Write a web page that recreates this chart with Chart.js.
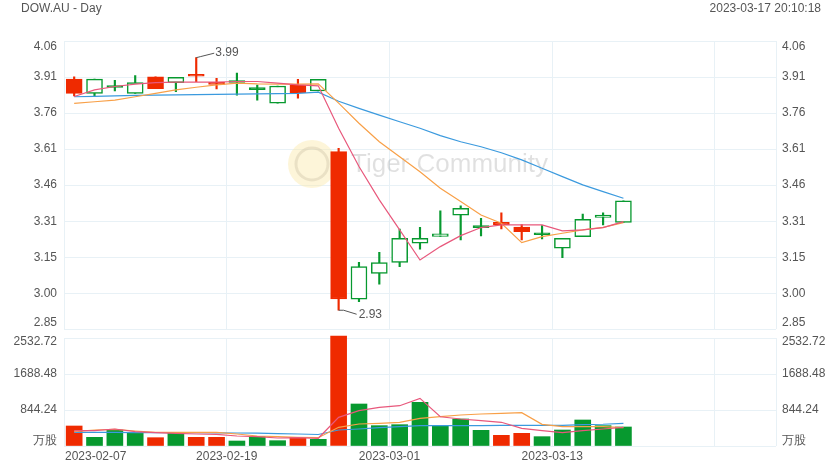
<!DOCTYPE html>
<html><head><meta charset="utf-8">
<script src="https://cdn.jsdelivr.net/npm/chart.js@4.4.0/dist/chart.umd.min.js"></script>
<style>
html,body{margin:0;padding:0;background:#fff;}
#wrap{position:relative;width:840px;height:470px;font-family:Arial,"Liberation Sans",sans-serif;overflow:hidden;}
canvas{position:absolute;left:0;top:0;}
.t{position:absolute;font-size:12px;color:#555;line-height:14px;white-space:nowrap;}
</style></head><body>
<div id="wrap">
<canvas id="price" width="840" height="470"></canvas>
<canvas id="vol" width="840" height="470"></canvas>
<div class="t" style="left:21px;top:1px;">DOW.AU - Day</div>
<div class="t" style="right:19px;top:1px;">2023-03-17 20:10:18</div>
</div>
<script>
// ---- data ----
const dates = ['2023-02-08','2023-02-09','2023-02-10','2023-02-13','2023-02-14','2023-02-15','2023-02-16','2023-02-17','2023-02-20','2023-02-21','2023-02-22','2023-02-23','2023-02-24','2023-02-27','2023-02-28','2023-03-01','2023-03-02','2023-03-03','2023-03-06','2023-03-07','2023-03-08','2023-03-09','2023-03-10','2023-03-13','2023-03-14','2023-03-15','2023-03-16','2023-03-17'];
const opens  = [3.90,3.84,3.865,3.84,3.91,3.885,3.92,3.887,3.886,3.856,3.799,3.875,3.85,3.596,2.976,3.085,3.131,3.211,3.24,3.329,3.277,3.299,3.279,3.247,3.19,3.239,3.32,3.299];
const closes = [3.84,3.90,3.87,3.885,3.86,3.908,3.912,3.878,3.888,3.858,3.871,3.843,3.899,2.977,3.113,3.13,3.232,3.232,3.251,3.358,3.279,3.288,3.26,3.249,3.232,3.312,3.329,3.389];
const highs  = [3.91,3.90,3.895,3.915,3.91,3.908,3.99,3.903,3.925,3.875,3.871,3.899,3.899,3.61,3.131,3.173,3.271,3.278,3.347,3.368,3.316,3.339,3.29,3.285,3.232,3.334,3.339,3.389];
const lows   = [3.83,3.83,3.85,3.84,3.86,3.847,3.889,3.859,3.833,3.812,3.799,3.82,3.85,2.93,2.966,3.039,3.113,3.186,3.24,3.225,3.242,3.271,3.225,3.229,3.151,3.239,3.288,3.299];
const ma5  = [3.827,3.855,3.869,3.879,3.885,3.887,3.887,3.887,3.89,3.89,3.883,3.876,3.872,3.694,3.533,3.393,3.267,3.141,3.197,3.243,3.277,3.288,3.288,3.288,3.263,3.267,3.277,3.302];
const ma10 = [3.798,3.805,3.812,3.826,3.84,3.855,3.866,3.876,3.883,3.88,3.879,3.879,3.88,3.799,3.715,3.637,3.574,3.511,3.442,3.386,3.33,3.295,3.214,3.239,3.253,3.267,3.278,3.298];
const ma20 = [3.826,3.828,3.83,3.832,3.833,3.834,3.835,3.836,3.837,3.838,3.839,3.84,3.845,3.807,3.777,3.749,3.721,3.694,3.663,3.637,3.616,3.591,3.561,3.526,3.491,3.456,3.428,3.40];
const volumes = [469,204,375,297,195,321,204,204,117,218,125,204,157,2580,985,477,500,1024,477,633,367,250,297,219,375,610,477,446];
const volMa5  = [359,359,399,336,312,298,281,274,234,218,188,195,181,672,828,907,945,1118,686,633,594,556,415,359,312,359,399,438];
const volMa10 = [335,375,391,352,321,321,321,321,281,235,219,204,195,438,516,532,555,649,688,727,750,766,781,509,453,453,453,429];
const volMa20 = [321,320,318,316,315,313,311,310,305,300,290,282,270,375,399,430,453,477,477,477,477,485,485,485,485,500,510,532];
const priceTicks = [4.06,3.90875,3.7575,3.60625,3.455,3.30375,3.1525,3.00125,2.85];
const priceTickLabels = ['4.06','3.91','3.76','3.61','3.46','3.31','3.15','3.00','2.85'];
const volTicks = [2532.72,1688.48,844.24,0];
const volTickLabels = ['2532.72','1688.48','844.24','万股'];
const xGrid = [-0.5,7.5,15.5,23.5,31.5,34.5];
const xTickLabels = ['2023-02-07','2023-02-19','2023-03-01','2023-03-13','',''];
const maxLabel = '3.99', minLabel = '2.93';

// ---- style ----
const RED = '#ef2a00', GREEN = '#07992f', GRID = '#e8f1f6', TXT = '#555';
const PINK = '#e8587c', ORANGE = '#f8a048', BLUE = '#3b9ade';
const FONT = '12px Arial, "Liberation Sans", sans-serif';
const isUp = i => closes[i] >= opens[i];
const isDoji = i => Math.abs(closes[i] - opens[i]) < 0.005;
const pts = arr => arr.map((v, i) => ({x: i, y: v}));

function yLabelPlugin(id, yId, vals, labs, topShift, botShift) {
  return { id, afterDraw(chart) {
    const ctx = chart.ctx, s = chart.scales[yId], a = chart.chartArea;
    ctx.save(); ctx.font = FONT; ctx.fillStyle = TXT; ctx.textBaseline = 'middle';
    vals.forEach((v, i) => {
      let y = s.getPixelForValue(v);
      if (Math.abs(y - a.top) < 1) y = a.top + topShift;
      else if (Math.abs(y - a.bottom) < 1) y = a.bottom - botShift;
      ctx.textAlign = 'right'; ctx.fillText(labs[i], a.left - 7, y);
      ctx.textAlign = 'left'; ctx.fillText(labs[i], a.right + 6, y);
    });
    ctx.restore();
  }};
}

const watermark = { id: 'wm', beforeDatasetsDraw(chart) {
  const ctx = chart.ctx; ctx.save();
  ctx.beginPath(); ctx.arc(312, 164, 24, 0, Math.PI * 2);
  ctx.fillStyle = 'rgba(250,232,170,0.45)'; ctx.fill();
  ctx.beginPath(); ctx.arc(312, 164, 16, 0, Math.PI * 2);
  ctx.strokeStyle = 'rgba(200,190,160,0.35)'; ctx.lineWidth = 3; ctx.stroke();
  ctx.font = '26px Arial, "Liberation Sans", sans-serif';
  ctx.fillStyle = 'rgba(0,0,0,0.12)'; ctx.textBaseline = 'alphabetic'; ctx.textAlign = 'left';
  ctx.fillText('Tiger Community', 351, 172);
  ctx.restore();
}};

const extremes = { id: 'ext', afterDatasetsDraw(chart) {
  const ctx = chart.ctx, xs = chart.scales.x, ys = chart.scales.y;
  const hi = highs.indexOf(Math.max(...highs)), lo = lows.indexOf(Math.min(...lows));
  ctx.save(); ctx.strokeStyle = '#555'; ctx.lineWidth = 1; ctx.font = FONT; ctx.fillStyle = TXT;
  ctx.textBaseline = 'middle'; ctx.textAlign = 'left';
  let x = xs.getPixelForValue(hi), y = ys.getPixelForValue(highs[hi]);
  ctx.beginPath(); ctx.moveTo(x, y); ctx.lineTo(x + 4, y - 1); ctx.lineTo(x + 18, y - 4.5); ctx.stroke();
  ctx.fillText(maxLabel, x + 19, y - 4.5);
  x = xs.getPixelForValue(lo); y = ys.getPixelForValue(lows[lo]);
  ctx.beginPath(); ctx.moveTo(x, y); ctx.lineTo(x + 5, y); ctx.lineTo(x + 18, y + 4); ctx.stroke();
  ctx.fillText(minLabel, x + 20, y + 4);
  ctx.restore();
}};

const xLabels = { id: 'xl', afterDraw(chart) {
  const ctx = chart.ctx, xs = chart.scales.x, a = chart.chartArea;
  ctx.save(); ctx.font = FONT; ctx.fillStyle = TXT; ctx.textBaseline = 'middle';
  xGrid.forEach((v, i) => {
    if (!xTickLabels[i]) return;
    const px = xs.getPixelForValue(v);
    if (i === 0) { ctx.textAlign = 'left'; ctx.fillText(xTickLabels[i], px + 1, a.bottom + 11); }
    else { ctx.textAlign = 'center'; ctx.fillText(xTickLabels[i], px, a.bottom + 11); }
  });
  ctx.restore();
}};

const lineDs = (data, color) => ({ type: 'line', data: pts(data), borderColor: color, borderWidth: 1.2,
  pointRadius: 0, tension: 0, fill: false, order: 1 });

const xScale = (h) => ({ type: 'linear', min: -0.5, max: 34.5, offset: false,
  afterBuildTicks: s => { s.ticks = xGrid.map(v => ({ value: v })); },
  ticks: { display: false }, grid: { color: GRID, drawTicks: false, offset: false }, border: { display: false },
  afterFit: s => { s.height = h; } });

const yScale = (min, max, ticks) => ({ position: 'left', min, max,
  afterBuildTicks: s => { s.ticks = ticks.map(v => ({ value: v })); },
  ticks: { display: false }, grid: { color: GRID, drawTicks: false }, border: { display: false },
  afterFit: s => { s.width = 64; } });

new Chart(document.getElementById('price'), {
  type: 'bar',
  data: { datasets: [
    lineDs(ma5, PINK), lineDs(ma10, ORANGE), lineDs(ma20, BLUE),
    { type: 'bar', data: opens.map((o, i) => ({ x: i, y: [o, closes[i]] })), grouped: false, order: 2,
      backgroundColor: c => isUp(c.dataIndex) ? (isDoji(c.dataIndex) ? GREEN : '#ffffff') : RED,
      borderColor: c => isUp(c.dataIndex) ? GREEN : RED,
      borderWidth: 1.5, borderSkipped: false, barThickness: 16, minBarLength: 2 },
    { type: 'bar', data: lows.map((l, i) => ({ x: i, y: [l, highs[i]] })), grouped: false, order: 3,
      backgroundColor: c => isUp(c.dataIndex) ? GREEN : RED, borderWidth: 0, barThickness: 1.5 }
  ]},
  options: { responsive: false, animation: false, devicePixelRatio: 1,
    layout: { padding: { top: 41, bottom: 140.7, left: 0, right: 64 } },
    plugins: { legend: { display: false }, tooltip: { enabled: false } },
    scales: { x: xScale(0), y: yScale(2.85, 4.06, priceTicks) } },
  plugins: [watermark, extremes, yLabelPlugin('pl', 'y', priceTicks, priceTickLabels, 5.7, 6.3)]
});

new Chart(document.getElementById('vol'), {
  type: 'bar',
  data: { datasets: [
    lineDs(volMa5, PINK), lineDs(volMa10, ORANGE), lineDs(volMa20, BLUE),
    { type: 'bar', data: pts(volumes), grouped: false, order: 2, clip: false,
      backgroundColor: c => isUp(c.dataIndex) ? GREEN : RED, borderWidth: 0, barThickness: 16 }
  ]},
  options: { responsive: false, animation: false, devicePixelRatio: 1,
    layout: { padding: { top: 338, bottom: 0, left: 0, right: 64 } },
    plugins: { legend: { display: false }, tooltip: { enabled: false } },
    scales: { x: xScale(24), y: yScale(0, 2532.72, volTicks) } },
  plugins: [xLabels, yLabelPlugin('vl', 'y', volTicks, volTickLabels, 4, 5.3)]
});
</script>
</body></html>
